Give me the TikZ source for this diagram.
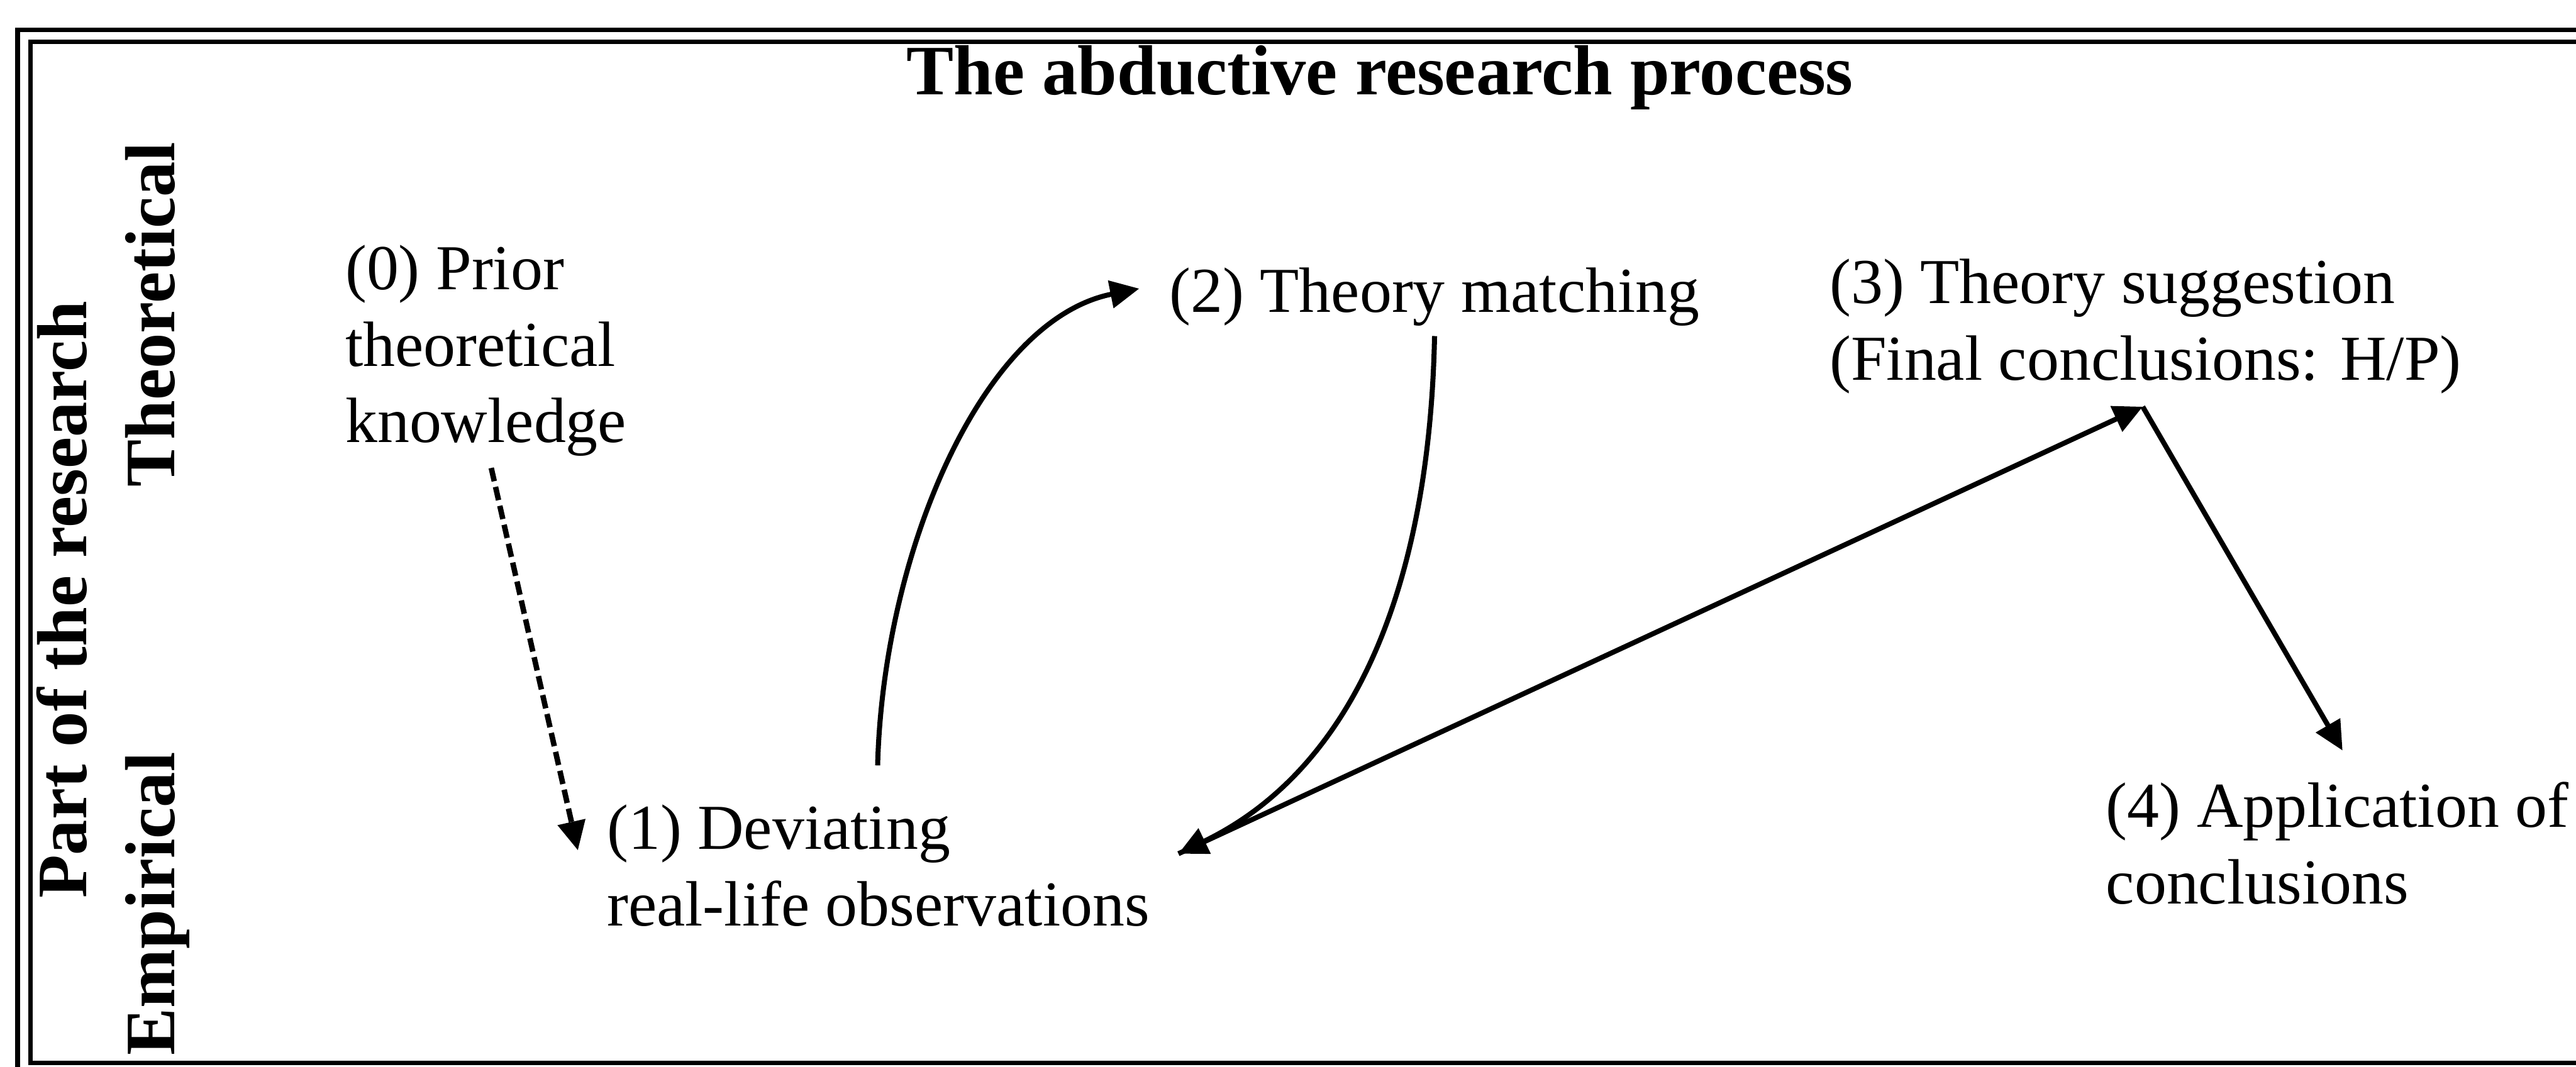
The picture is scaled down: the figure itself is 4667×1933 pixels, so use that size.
\documentclass[tikz,border=0pt]{standalone}
\usepackage{fontspec}
\setmainfont{Liberation Serif}
\usepackage{xcolor}
\usepackage{tikz}
\usetikzlibrary{arrows.meta, positioning, calc}

\tikzset{
  steplabel/.style={anchor=north west, inner sep=0pt, align=left, font=\fontsize{33}{39.5}\selectfont},
  headlabel/.style={anchor=base, inner sep=0pt, font=\fontsize{36.5}{40}\selectfont\bfseries},
  sidelabel/.style={headlabel, rotate=90},
  flow/.style={line width=2.6pt, -{Triangle[length=15pt, width=14pt]}},
  frameline/.style={line width=2.4pt}
}

\begin{document}
\begin{tikzpicture}[x=0.01cm, y=0.01cm]
  \useasboundingbox (0,0) rectangle (4667,-1933);
  \draw[frameline] (32,-54) rectangle (4720,-1960);
  \draw[frameline] (55,-76) rectangle (4720,-1926);

  \node[headlabel] (title) at (2500,-171) {The abductive research process};
  \node[sidelabel] (part) at (157,-1087) {Part of the research};
  \node[sidelabel] (theo) at (316,-570) {Theoretical};
  \node[sidelabel] (emp) at (316,-1638) {Empirical};

  \node[steplabel] (prior) at (625,-443) {(0) Prior\\theoretical\\knowledge};
  \node[steplabel] (obs) at (1099,-1458) {(1) Deviating\\real-life observations};
  \node[steplabel] (match) at (2118,-485) {(2) Theory matching};
  \node[steplabel] (sugg) at (3314,-469) {(3) Theory suggestion\\(Final conclusions: H/P)};
  \node[steplabel] (appl) at (3815,-1417) {(4) Application of\\conclusions};

  \draw[flow, dash pattern=on 7pt off 3pt, line width=2.8pt] ($(prior.north west)+(265,-405)$) -- ($(obs.north west)+(-52,-83)$);
  \draw[flow] ($(obs.north west)+(491,71)$) .. controls +(10,387) and +(-284,-57) .. ($(match.north west)+(-54,-38)$);
  \draw[flow] ($(match.north west)+(481,-124)$) .. controls +(-9,-441) and +(325,157) .. ($(obs.north west)+(1036,-89)$);
  \draw[flow] ($(obs.north west)+(1036,-89)$) -- ($(sugg.north west)+(568,-268)$);
  \draw[flow] ($(sugg.north west)+(568,-268)$) -- ($(appl.north west)+(429,57)$);
\end{tikzpicture}
\end{document}
